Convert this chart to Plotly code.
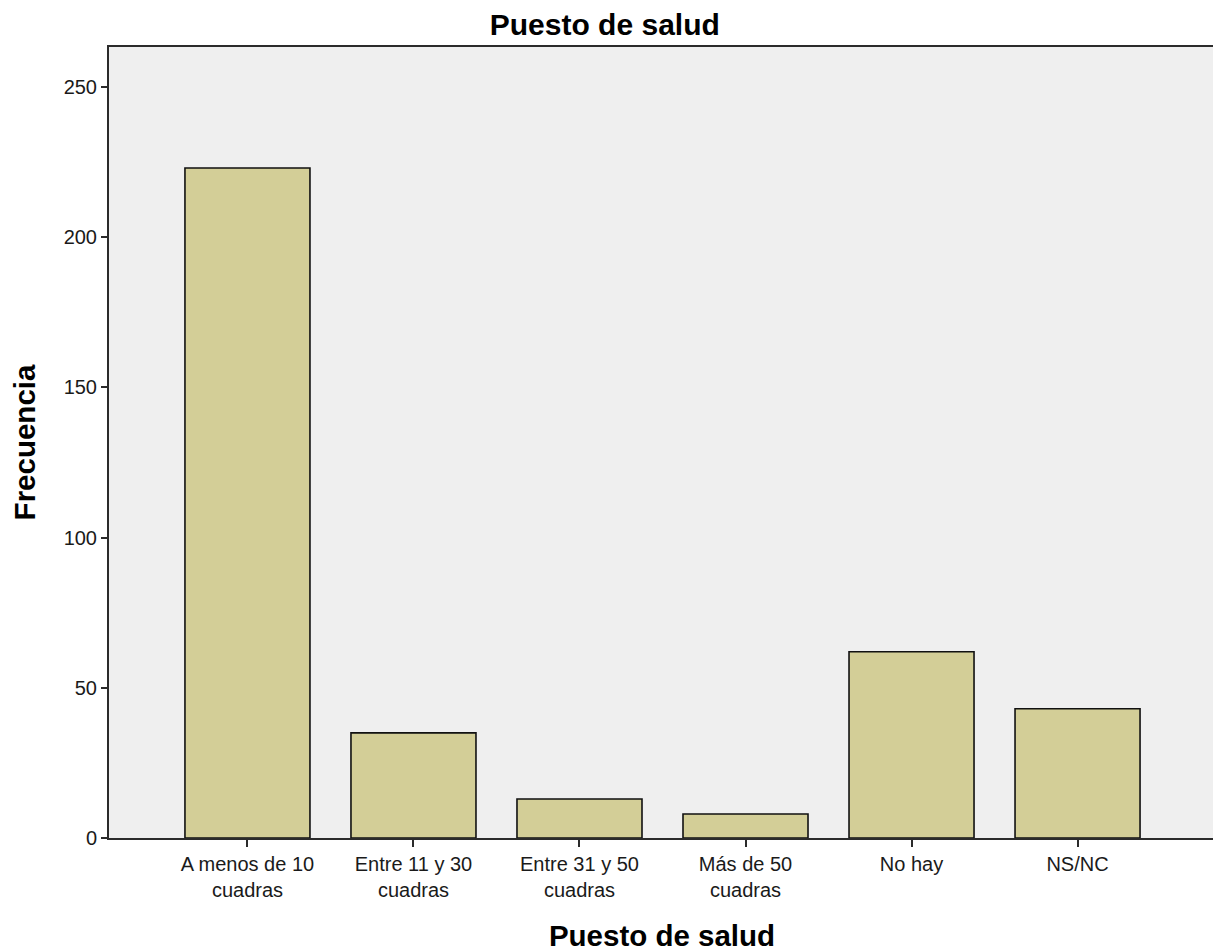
import plotly.graph_objects as go

CATEGORIES = [
    "A menos de 10<br>cuadras",
    "Entre 11 y 30<br>cuadras",
    "Entre 31 y 50<br>cuadras",
    "Más de 50<br>cuadras",
    "No hay",
    "NS/NC",
]
FRECUENCIA = [223, 35, 13, 8, 62, 43]
Y_TICKS = [0, 50, 100, 150, 200, 250]

FONT = "Liberation Sans, Arial, sans-serif"
AXIS_COLOR = "#2b2b2b"

fig = go.Figure(go.Bar(
    x=list(range(len(CATEGORIES))),
    y=FRECUENCIA,
    width=0.753,
    marker=dict(color="#d3ce97", line=dict(color="#111111", width=1.6)),
))

# the page body adds an 8px margin, so the figure is a bit smaller than the window
fig.update_layout(
    width=1213, height=944,
    margin=dict(l=101, r=6, t=39, b=114),
    paper_bgcolor="white",
    plot_bgcolor="#efefef",
    showlegend=False,
    font=dict(family=FONT, color="#1a1a1a"),
    title=dict(
        text="<b>Puesto de salud</b>",
        x=0.492, xanchor="center",
        y=0.982, yanchor="middle", yref="container",
        font=dict(size=30, color="#000000"),
    ),
)

fig.update_xaxes(
    range=[-0.834, 5.828],
    tickmode="array",
    tickvals=list(range(len(CATEGORIES))),
    ticktext=CATEGORIES,
    ticks="outside", ticklen=7, tickwidth=2, tickcolor=AXIS_COLOR,
    tickfont=dict(size=20, color="#1a1a1a"),
    showline=True, linecolor=AXIS_COLOR, linewidth=2, mirror=True,
    showgrid=False, zeroline=False, automargin=False,
    title=dict(text="<b>Puesto de salud</b>", font=dict(size=29.5, color="#000000"), standoff=26),
)

fig.update_yaxes(
    range=[0, 263.3],
    tickmode="array",
    tickvals=Y_TICKS,
    ticks="outside", ticklen=6, tickwidth=2, tickcolor=AXIS_COLOR,
    tickfont=dict(size=20, color="#1a1a1a"),
    showline=True, linecolor=AXIS_COLOR, linewidth=2, mirror=True,
    showgrid=False, zeroline=False, automargin=False,
    title=dict(text="<b>Frecuencia</b>", font=dict(size=29.5, color="#000000"), standoff=37),
)

fig.write_html("out.html")
